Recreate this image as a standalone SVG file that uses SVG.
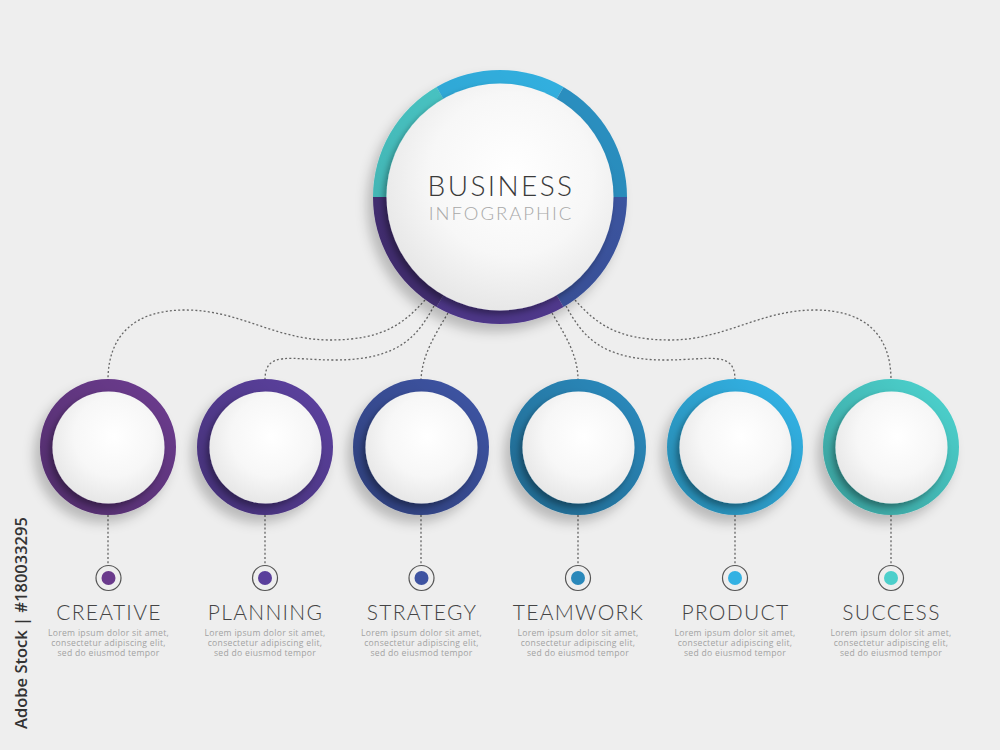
<svg xmlns="http://www.w3.org/2000/svg" width="1000" height="750" viewBox="0 0 1000 750">
  <defs>
    <style>
      .conn { fill: none; stroke: #666; stroke-width: 1.3; stroke-dasharray: 2 2.2; }
      .title { font-family: Lato, "Open Sans", sans-serif; font-weight: 300; fill: #444; text-anchor: middle; }
      .lbl { font-size: 21px; letter-spacing: 1.3px; }
      .desc { font-family: "Open Sans", "Liberation Sans", sans-serif; font-size: 8.6px; letter-spacing: 0.3px; fill: #a2a2a2; text-anchor: middle; }
      .marker-ring { fill: none; stroke: #555; stroke-width: 1.2; }
      .disc { fill: url(#discGrad); filter: url(#discShadow); }
      .shade { fill: url(#ringShade); }
    </style>
    <radialGradient id="discGrad" cx="55%" cy="40%" r="65%">
      <stop offset="0" stop-color="#ffffff"/>
      <stop offset="0.55" stop-color="#f7f7f7"/>
      <stop offset="1" stop-color="#e4e4e4"/>
    </radialGradient>
    <linearGradient id="ringShade" x1="0.85" y1="0.1" x2="0.15" y2="0.9">
      <stop offset="0" stop-color="#000" stop-opacity="0"/>
      <stop offset="1" stop-color="#000" stop-opacity="0.22"/>
    </linearGradient>
    <filter id="outerShadow" x="-30%" y="-30%" width="160%" height="160%">
      <feDropShadow dx="-6" dy="8" stdDeviation="6" flood-color="#000" flood-opacity="0.22"/>
    </filter>
    <filter id="discShadow" x="-30%" y="-30%" width="160%" height="160%">
      <feDropShadow dx="-3" dy="4" stdDeviation="3" flood-color="#000" flood-opacity="0.35"/>
    </filter>
  </defs>

  <rect width="1000" height="750" fill="#eeeeee"/>

  <g id="connectors">
    <path class="conn" d="M425,300 C405,322 385,340 330,340 C275,340 240,310 185,310 C135,310 108,335 108,380"/>
    <path class="conn" d="M434,306 C418,335 400,360 335,360 C290,360 265,350 265,380"/>
    <path class="conn" d="M448,313 C435,335 422,355 421,380"/>
    <path class="conn" d="M552,313 C565,335 578,355 578,380"/>
    <path class="conn" d="M566,306 C582,335 600,360 665,360 C710,360 735,350 735,380"/>
    <path class="conn" d="M575,300 C595,322 615,340 670,340 C725,340 760,310 815,310 C865,310 891,335 891,380"/>
    <path class="conn" d="M108,515 V565"/>
    <path class="conn" d="M265,515 V565"/>
    <path class="conn" d="M421,515 V565"/>
    <path class="conn" d="M578,515 V565"/>
    <path class="conn" d="M735,515 V565"/>
    <path class="conn" d="M891,515 V565"/>
  </g>

  <g id="center">
    <g filter="url(#outerShadow)">
      <path d="M500,197 L627,197 A127,127 0 0 1 563.5,307 Z" fill="#3c56a3"/>
      <path d="M500,197 L563.5,307 A127,127 0 0 1 436.5,307 Z" fill="#563c98"/>
      <path d="M500,197 L436.5,307 A127,127 0 0 1 373,197 Z" fill="#48307c"/>
      <path d="M500,197 L373,197 A127,127 0 0 1 436.5,87 Z" fill="#4ccbca"/>
      <path d="M500,197 L436.5,87 A127,127 0 0 1 563.5,87 Z" fill="#33b0e0"/>
      <path d="M500,197 L563.5,87 A127,127 0 0 1 627,197 Z" fill="#2b8fc0"/>
    </g>
    <circle cx="500" cy="197" r="127" class="shade" opacity="0.6"/>
    <circle cx="500" cy="197" r="113.5" class="disc"/>
    <text x="501" y="196" class="title" font-size="28" letter-spacing="2.4" style="fill:#3a3a3a">BUSINESS</text>
    <text x="501" y="220" class="title" font-size="18.5" letter-spacing="2" style="fill:#a8a8a8">INFOGRAPHIC</text>
  </g>

  <g id="creative">
    <circle cx="108" cy="447" r="68" fill="#6a3a8c" filter="url(#outerShadow)"/>
    <circle cx="108" cy="447" r="68" class="shade"/>
    <circle cx="108.5" cy="447.5" r="56" class="disc"/>
    <circle cx="108.5" cy="578" r="12.5" class="marker-ring"/>
    <circle cx="108.5" cy="578" r="7" fill="#6a3a8c"/>
    <text x="109" y="620" class="title lbl">CREATIVE</text>
    <text x="108.5" y="636" class="desc">Lorem ipsum dolor sit amet,</text>
    <text x="108.5" y="646" class="desc">consectetur adipiscing elit,</text>
    <text x="108.5" y="656" class="desc">sed do eiusmod tempor</text>
  </g>

  <g id="planning">
    <circle cx="265" cy="447" r="68" fill="#5a3f9c" filter="url(#outerShadow)"/>
    <circle cx="265" cy="447" r="68" class="shade"/>
    <circle cx="265.5" cy="447.5" r="56" class="disc"/>
    <circle cx="265" cy="578" r="12.5" class="marker-ring"/>
    <circle cx="265" cy="578" r="7" fill="#5a3f9c"/>
    <text x="265.5" y="620" class="title lbl">PLANNING</text>
    <text x="265" y="636" class="desc">Lorem ipsum dolor sit amet,</text>
    <text x="265" y="646" class="desc">consectetur adipiscing elit,</text>
    <text x="265" y="656" class="desc">sed do eiusmod tempor</text>
  </g>

  <g id="strategy">
    <circle cx="421" cy="447" r="68" fill="#3e53a1" filter="url(#outerShadow)"/>
    <circle cx="421" cy="447" r="68" class="shade"/>
    <circle cx="421.5" cy="447.5" r="56" class="disc"/>
    <circle cx="421.5" cy="578" r="12.5" class="marker-ring"/>
    <circle cx="421.5" cy="578" r="7" fill="#3e53a1"/>
    <text x="422" y="620" class="title lbl">STRATEGY</text>
    <text x="421.5" y="636" class="desc">Lorem ipsum dolor sit amet,</text>
    <text x="421.5" y="646" class="desc">consectetur adipiscing elit,</text>
    <text x="421.5" y="656" class="desc">sed do eiusmod tempor</text>
  </g>

  <g id="teamwork">
    <circle cx="578" cy="447" r="68" fill="#2a88ba" filter="url(#outerShadow)"/>
    <circle cx="578" cy="447" r="68" class="shade"/>
    <circle cx="578.5" cy="447.5" r="56" class="disc"/>
    <circle cx="578" cy="578" r="12.5" class="marker-ring"/>
    <circle cx="578" cy="578" r="7" fill="#2a88ba"/>
    <text x="578.5" y="620" class="title lbl">TEAMWORK</text>
    <text x="578" y="636" class="desc">Lorem ipsum dolor sit amet,</text>
    <text x="578" y="646" class="desc">consectetur adipiscing elit,</text>
    <text x="578" y="656" class="desc">sed do eiusmod tempor</text>
  </g>

  <g id="product">
    <circle cx="735" cy="447" r="68" fill="#33b1e3" filter="url(#outerShadow)"/>
    <circle cx="735" cy="447" r="68" class="shade"/>
    <circle cx="735.5" cy="447.5" r="56" class="disc"/>
    <circle cx="735" cy="578" r="12.5" class="marker-ring"/>
    <circle cx="735" cy="578" r="7" fill="#33b1e3"/>
    <text x="735.5" y="620" class="title lbl">PRODUCT</text>
    <text x="735" y="636" class="desc">Lorem ipsum dolor sit amet,</text>
    <text x="735" y="646" class="desc">consectetur adipiscing elit,</text>
    <text x="735" y="656" class="desc">sed do eiusmod tempor</text>
  </g>

  <g id="success">
    <circle cx="891" cy="447" r="68" fill="#4ccfcb" filter="url(#outerShadow)"/>
    <circle cx="891" cy="447" r="68" class="shade"/>
    <circle cx="891.5" cy="447.5" r="56" class="disc"/>
    <circle cx="891" cy="578" r="12.5" class="marker-ring"/>
    <circle cx="891" cy="578" r="7" fill="#4ccfcb"/>
    <text x="891.5" y="620" class="title lbl">SUCCESS</text>
    <text x="891" y="636" class="desc">Lorem ipsum dolor sit amet,</text>
    <text x="891" y="646" class="desc">consectetur adipiscing elit,</text>
    <text x="891" y="656" class="desc">sed do eiusmod tempor</text>
  </g>

  <text transform="translate(27,623) rotate(-90)" text-anchor="middle" font-family="'Open Sans', 'Liberation Sans', sans-serif" font-size="16.5" font-weight="600" fill="#333">Adobe Stock | #180033295</text>
</svg>
